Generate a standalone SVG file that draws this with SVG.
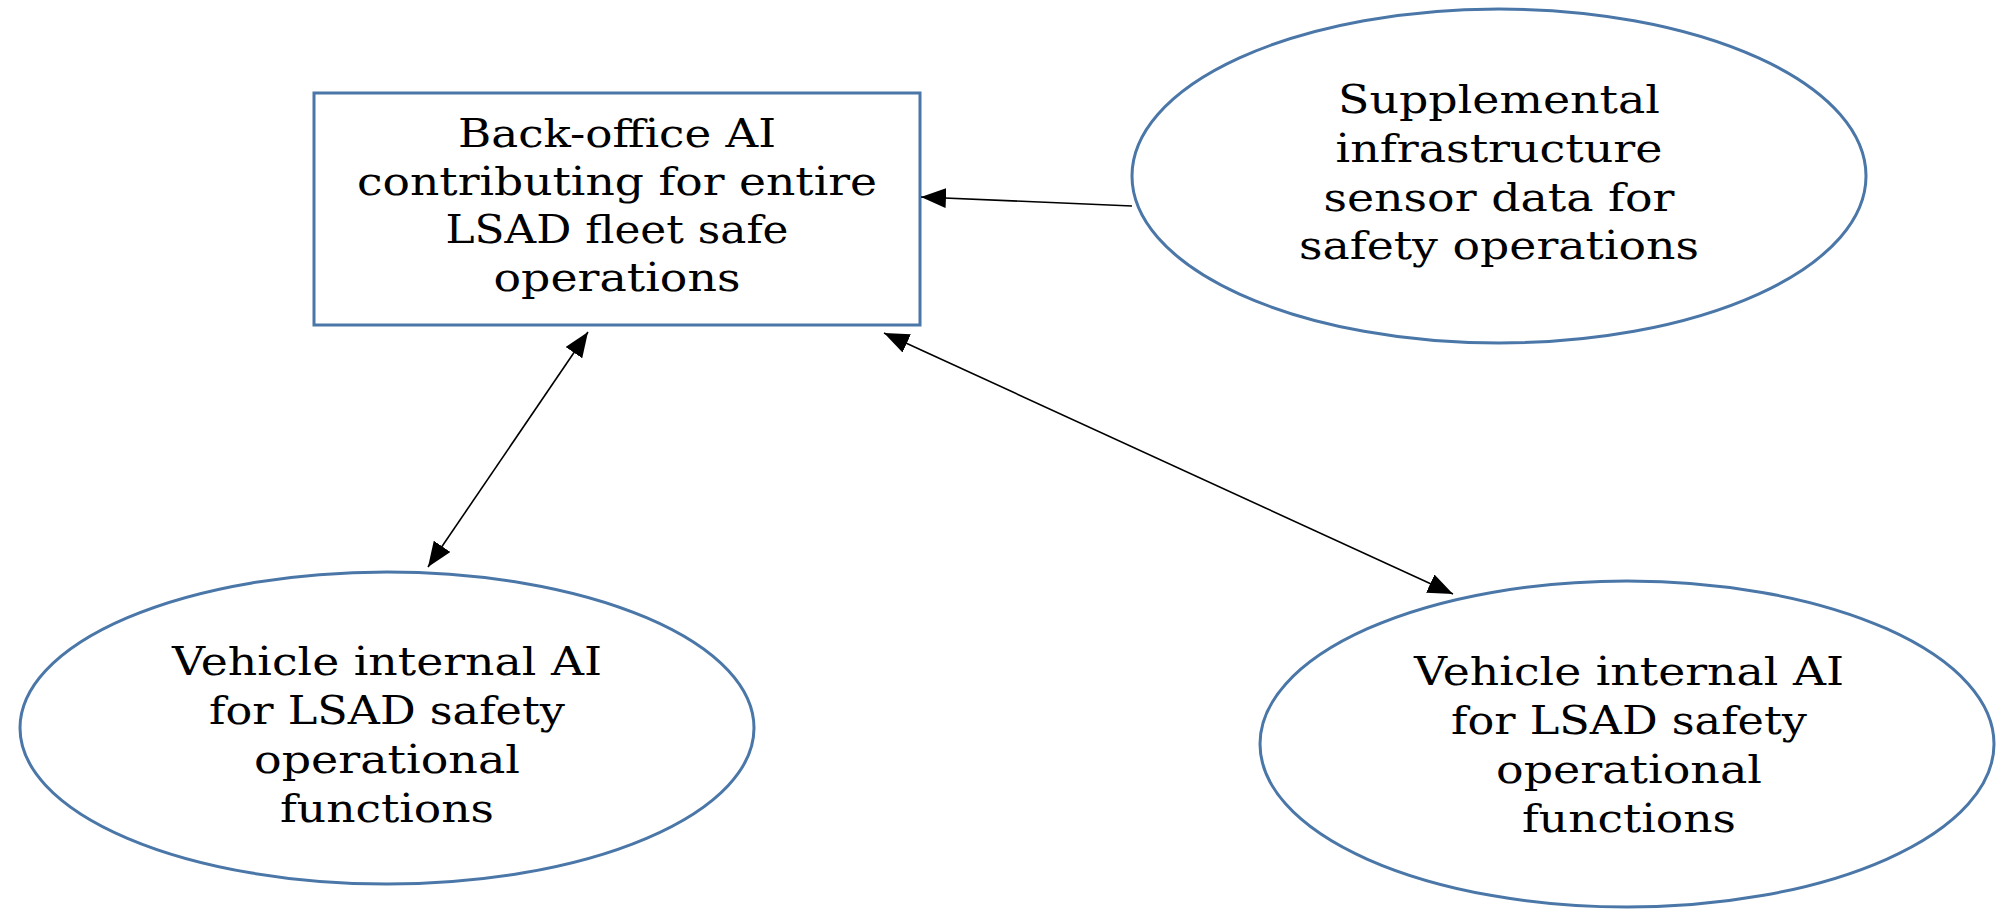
<svg xmlns="http://www.w3.org/2000/svg" width="1997" height="909" viewBox="0 0 1997 909">
<style>
.node{fill:#fff;stroke:#4a77a8;stroke-width:3}
.t{font-family:"DejaVu Serif","Liberation Serif",serif;font-size:39px;fill:#000;text-anchor:middle}
.c{stroke:#000;stroke-width:1.6;fill:none}
</style>
<defs>
<marker id="arr" viewBox="0 0 25 20" refX="25" refY="10" markerWidth="25" markerHeight="20" markerUnits="userSpaceOnUse" orient="auto-start-reverse">
<path d="M0,0 L25,10 L0,20 z" fill="#000"/>
</marker>
</defs>
<rect width="1997" height="909" fill="#fff"/>
<g id="backoffice">
<rect class="node" x="314" y="93" width="606" height="232"/>
<text class="t"><tspan x="617" y="147" textLength="318" lengthAdjust="spacingAndGlyphs">Back-office AI</tspan><tspan x="617" y="195" textLength="520" lengthAdjust="spacingAndGlyphs">contributing for entire</tspan><tspan x="617" y="243" textLength="343" lengthAdjust="spacingAndGlyphs">LSAD fleet safe</tspan><tspan x="617" y="291" textLength="247" lengthAdjust="spacingAndGlyphs">operations</tspan></text>
</g>
<g id="infrastructure">
<ellipse class="node" cx="1499" cy="176" rx="367" ry="167"/>
<text class="t"><tspan x="1499" y="113" textLength="322" lengthAdjust="spacingAndGlyphs">Supplemental</tspan><tspan x="1499" y="162" textLength="327" lengthAdjust="spacingAndGlyphs">infrastructure</tspan><tspan x="1499" y="211" textLength="351" lengthAdjust="spacingAndGlyphs">sensor data for</tspan><tspan x="1499" y="259" textLength="400" lengthAdjust="spacingAndGlyphs">safety operations</tspan></text>
</g>
<g id="vehicle-left">
<ellipse class="node" cx="387" cy="728" rx="367" ry="156"/>
<text class="t"><tspan x="387" y="675" textLength="430" lengthAdjust="spacingAndGlyphs">Vehicle internal AI</tspan><tspan x="387" y="724" textLength="356" lengthAdjust="spacingAndGlyphs">for LSAD safety</tspan><tspan x="387" y="773" textLength="266" lengthAdjust="spacingAndGlyphs">operational</tspan><tspan x="387" y="822" textLength="214" lengthAdjust="spacingAndGlyphs">functions</tspan></text>
</g>
<g id="vehicle-right">
<ellipse class="node" cx="1627" cy="744" rx="367" ry="163"/>
<text class="t"><tspan x="1629" y="685" textLength="430" lengthAdjust="spacingAndGlyphs">Vehicle internal AI</tspan><tspan x="1629" y="734" textLength="356" lengthAdjust="spacingAndGlyphs">for LSAD safety</tspan><tspan x="1629" y="783" textLength="266" lengthAdjust="spacingAndGlyphs">operational</tspan><tspan x="1629" y="832" textLength="214" lengthAdjust="spacingAndGlyphs">functions</tspan></text>
</g>
<g id="connectors">
<line class="c" x1="1132" y1="206" x2="921" y2="197" marker-end="url(#arr)"/>
<line class="c" x1="588" y1="332" x2="428" y2="567" marker-start="url(#arr)" marker-end="url(#arr)"/>
<line class="c" x1="884" y1="333" x2="1453" y2="594" marker-start="url(#arr)" marker-end="url(#arr)"/>
</g>
</svg>
